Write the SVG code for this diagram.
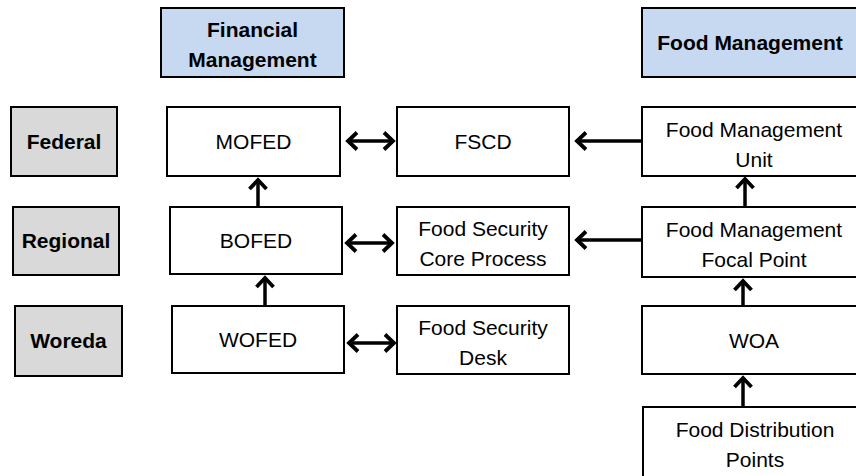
<svg xmlns="http://www.w3.org/2000/svg" width="856" height="476" viewBox="0 0 856 476">
  <style>
    .box { fill: #ffffff; stroke: #000000; stroke-width: 2; }
    .head { fill: #c6d9f1; stroke: #000000; stroke-width: 2; }
    .level { fill: #d9d9d9; stroke: #000000; stroke-width: 2; }
    text { font-family: "Liberation Sans", Arial, sans-serif; font-size: 21px; fill: #000000; text-anchor: middle; }
    .bold { font-weight: bold; }
    .arrow { stroke: #000000; stroke-width: 3.5; fill: none; }
  </style>
  <defs>
    <marker id="chev" markerUnits="userSpaceOnUse" markerWidth="24" markerHeight="24" refX="0" refY="0" orient="auto-start-reverse" overflow="visible">
      <path d="M-9,-8.5 L0,0 L-9,8.5" fill="none" stroke="#000000" stroke-width="3.8" stroke-linejoin="miter"/>
    </marker>
  </defs>

  <!-- column headers -->
  <g id="hdr-financial">
    <rect class="head" x="161" y="8" width="183" height="69"/>
    <text class="bold" x="252.5" y="37">Financial</text>
    <text class="bold" x="252.5" y="67">Management</text>
  </g>
  <g id="hdr-food">
    <rect class="head" x="642" y="8" width="224" height="69"/>
    <text class="bold" x="750" y="50">Food Management</text>
  </g>

  <!-- level labels -->
  <g id="lvl-federal">
    <rect class="level" x="11" y="107" width="106" height="69"/>
    <text class="bold" x="64" y="149">Federal</text>
  </g>
  <g id="lvl-regional">
    <rect class="level" x="13" y="207" width="106" height="68"/>
    <text class="bold" x="66" y="248">Regional</text>
  </g>
  <g id="lvl-woreda">
    <rect class="level" x="15" y="306" width="107" height="70"/>
    <text class="bold" x="68.5" y="348">Woreda</text>
  </g>

  <!-- financial column -->
  <g id="mofed">
    <rect class="box" x="167" y="107" width="173" height="69"/>
    <text x="253.5" y="149">MOFED</text>
  </g>
  <g id="bofed">
    <rect class="box" x="170" y="207" width="172" height="67"/>
    <text x="256" y="248">BOFED</text>
  </g>
  <g id="wofed">
    <rect class="box" x="172" y="306" width="172" height="67"/>
    <text x="258" y="347">WOFED</text>
  </g>

  <!-- food security column -->
  <g id="fscd">
    <rect class="box" x="397" y="107" width="172" height="69"/>
    <text x="483" y="149">FSCD</text>
  </g>
  <g id="fscp">
    <rect class="box" x="397" y="207" width="172" height="68"/>
    <text x="483" y="236">Food Security</text>
    <text x="483" y="266">Core Process</text>
  </g>
  <g id="fsd">
    <rect class="box" x="397" y="306" width="172" height="68"/>
    <text x="483" y="335">Food Security</text>
    <text x="483" y="365">Desk</text>
  </g>

  <!-- food management column -->
  <g id="fmu">
    <rect class="box" x="642" y="107" width="224" height="69"/>
    <text x="754" y="137">Food Management</text>
    <text x="754" y="167">Unit</text>
  </g>
  <g id="fmfp">
    <rect class="box" x="642" y="207" width="224" height="70"/>
    <text x="754" y="237">Food Management</text>
    <text x="754" y="267">Focal Point</text>
  </g>
  <g id="woa">
    <rect class="box" x="642" y="306" width="224" height="68"/>
    <text x="754" y="348">WOA</text>
  </g>
  <g id="fdp">
    <rect class="box" x="643" y="407" width="224" height="80"/>
    <text x="755" y="437">Food Distribution</text>
    <text x="755" y="467">Points</text>
  </g>

  <!-- connectors -->
  <g id="connectors">
    <line class="arrow" x1="348" y1="141" x2="393" y2="141" marker-start="url(#chev)" marker-end="url(#chev)"/>
    <line class="arrow" x1="347" y1="243" x2="392" y2="243" marker-start="url(#chev)" marker-end="url(#chev)"/>
    <line class="arrow" x1="349" y1="343" x2="394" y2="343" marker-start="url(#chev)" marker-end="url(#chev)"/>
    <line class="arrow" x1="641" y1="141" x2="577" y2="141" marker-end="url(#chev)"/>
    <line class="arrow" x1="641" y1="240" x2="577" y2="240" marker-end="url(#chev)"/>
    <line class="arrow" x1="258" y1="206" x2="258" y2="180" marker-end="url(#chev)"/>
    <line class="arrow" x1="265" y1="305" x2="265" y2="278" marker-end="url(#chev)"/>
    <line class="arrow" x1="745" y1="206" x2="745" y2="179" marker-end="url(#chev)"/>
    <line class="arrow" x1="743" y1="305" x2="743" y2="281" marker-end="url(#chev)"/>
    <line class="arrow" x1="743" y1="406" x2="743" y2="378" marker-end="url(#chev)"/>
  </g>
</svg>
